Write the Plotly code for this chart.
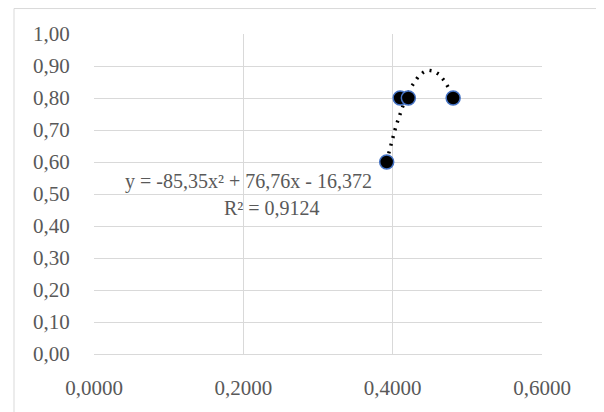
import numpy as np
import plotly.graph_objects as go

# data
x_vals = [0.392, 0.410, 0.421, 0.481]
y_vals = [0.60, 0.80, 0.80, 0.80]
# trendline equation shown on the chart: y = a x^2 + b x + c
trend_coef = [-85.35, 76.76, -16.372]
eq_text = "y = -85,35x² + 76,76x - 16,372"
r2_text = "R² = 0,9124"
x_ticks = [0.0, 0.2, 0.4, 0.6]
x_ticklabels = ["0,0000", "0,2000", "0,4000", "0,6000"]
y_ticks = [round(i * 0.1, 2) for i in range(11)]
y_ticklabels = ["0,00", "0,10", "0,20", "0,30", "0,40", "0,50", "0,60", "0,70", "0,80", "0,90", "1,00"]

tx = np.linspace(min(x_vals), max(x_vals), 120)
ty = np.polyval(trend_coef, tx)

OFF = 8  # page body margin
W, H = 596, 404
L, T = 94 - OFF, 34 - OFF
pw, ph = 448, 320.5
R = W - L - pw
B = H - T - ph

def px_x(p):
    return (p - OFF - L) / pw

def px_y(p):
    return (T + ph - (p - OFF)) / ph

tick_font = dict(family="Liberation Serif, Times New Roman, serif", size=21, color="#595959")
ann_font = dict(family="Liberation Serif, Times New Roman, serif", size=20, color="#595959")

fig = go.Figure()
fig.add_trace(go.Scatter(x=tx, y=ty, mode="lines",
                         line=dict(color="black", width=3.5, dash="2px,6px"),
                         hoverinfo="skip", showlegend=False))
fig.add_trace(go.Scatter(x=x_vals, y=y_vals, mode="markers",
                         marker=dict(size=14, color="black", line=dict(color="#4472C4", width=1.5)),
                         showlegend=False))

fig.add_annotation(x=px_x(248.5), y=px_y(182), xref="paper", yref="paper",
                   text=eq_text, showarrow=False, font=ann_font, xanchor="center", yanchor="middle")
fig.add_annotation(x=px_x(272), y=px_y(208), xref="paper", yref="paper",
                   text=r2_text, showarrow=False, font=ann_font, xanchor="center", yanchor="middle")

fig.add_shape(type="rect", xref="paper", yref="paper",
              x0=px_x(14), x1=px_x(603), y0=px_y(440), y1=px_y(8.5),
              line=dict(color="#d9d9d9", width=1), fillcolor="rgba(0,0,0,0)", layer="below")

fig.update_layout(
    width=W, height=H, margin=dict(l=L, r=R, t=T, b=B),
    paper_bgcolor="white", plot_bgcolor="white",
    font=tick_font,
    xaxis=dict(range=[0, 0.6], tickvals=x_ticks, ticktext=x_ticklabels,
               showgrid=True, gridcolor="#d9d9d9", gridwidth=1,
               zeroline=False, showline=True, linecolor="#d9d9d9", linewidth=1,
               ticks="outside", ticklen=0, ticklabelstandoff=15, tickfont=tick_font),
    yaxis=dict(range=[0, 1.0], tickvals=y_ticks, ticktext=y_ticklabels,
               showgrid=True, gridcolor="#d9d9d9", gridwidth=1,
               zeroline=False, showline=False,
               ticks="outside", ticklen=0, ticklabelstandoff=19, tickfont=tick_font),
)

fig.write_html("out.html")
